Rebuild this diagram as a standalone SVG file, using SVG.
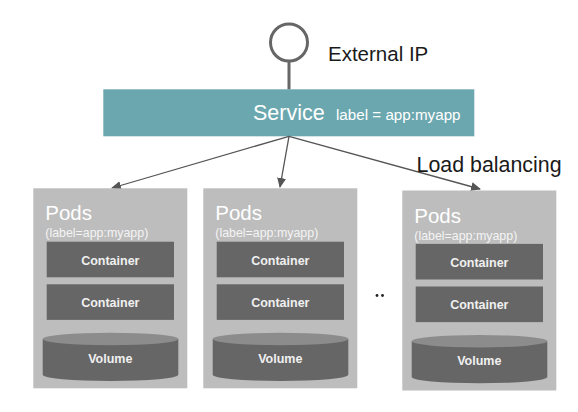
<svg xmlns="http://www.w3.org/2000/svg" width="578" height="412" viewBox="0 0 578 412">
<defs>
<style>
text{font-family:"Liberation Sans",Arial,sans-serif}
.pod{fill:#bdbdbd}
.ct{fill:#666666}
.vtop{fill:#8c8c8c}
.podt{fill:#ffffff;font-size:20.5px}
.lbl{fill:#f4f4f4;font-size:12.4px}
.ctt{fill:#f0f0f0;font-size:12.5px;font-weight:bold;text-anchor:middle}
.conn{stroke:#555555;stroke-width:1.3;fill:none;marker-end:url(#ah)}
.big{fill:#1a1a1a;font-size:20.5px}
</style>
<marker id="ah" viewBox="0 0 10 10" refX="9" refY="5" markerWidth="10" markerHeight="10" markerUnits="userSpaceOnUse" orient="auto">
<path d="M0,0.5 L10,5 L0,9.5 z" fill="#555555"/>
</marker>
<g id="podtpl">
<rect class="pod" x="0" y="0" width="154" height="200"/>
<text class="podt" x="12" y="32">Pods</text>
<text class="lbl" x="12" y="49">(label=app:myapp)</text>
<rect class="ct" x="13.4" y="53.4" width="127.3" height="35.6"/>
<text class="ctt" x="77" y="76.5">Container</text>
<rect class="ct" x="13.4" y="96" width="127.3" height="35.6"/>
<text class="ctt" x="77" y="118.5">Container</text>
<path class="ct" d="M9.4,150.7 L9.4,186.5 A67.8,6.3 0 0 0 145,186.5 L145,150.7 z"/>
<ellipse class="vtop" cx="77.2" cy="150.7" rx="67.8" ry="6.3"/>
<text class="ctt" x="77" y="174.5">Volume</text>
</g>
</defs>

<g id="external-ip">
<line x1="289" y1="61" x2="289" y2="89.5" stroke="#666666" stroke-width="3"/>
<circle cx="289" cy="42.5" r="18.5" fill="#ffffff" stroke="#666666" stroke-width="3"/>
<text class="big" x="328" y="61">External IP</text>
</g>

<g id="service">
<rect x="103.3" y="89.3" width="371" height="47" fill="#6ba7af"/>
<text x="253" y="119.5" fill="#ffffff" font-size="21.5px">Service</text>
<text x="336" y="119.5" fill="#ffffff" font-size="15.2px">label = app:myapp</text>
</g>

<g id="connectors">
<line class="conn" x1="289" y1="136.3" x2="112" y2="188"/>
<line class="conn" x1="289" y1="136.3" x2="280" y2="187"/>
<line class="conn" x1="289" y1="136.3" x2="480" y2="189"/>
</g>

<g id="load-balancing">
<text class="big" x="416.5" y="171.5" style="font-size:21.4px">Load balancing</text>
</g>

<g id="pod1"><use href="#podtpl" x="33.3" y="188.3"/></g>
<g id="pod2"><use href="#podtpl" x="203.3" y="188.3"/></g>
<g id="pod3"><use href="#podtpl" x="402.3" y="190.5"/></g>

<g id="ellipsis">
<circle cx="377" cy="295.5" r="1.4" fill="#222222"/>
<circle cx="382.5" cy="295.5" r="1.4" fill="#222222"/>
</g>
</svg>
